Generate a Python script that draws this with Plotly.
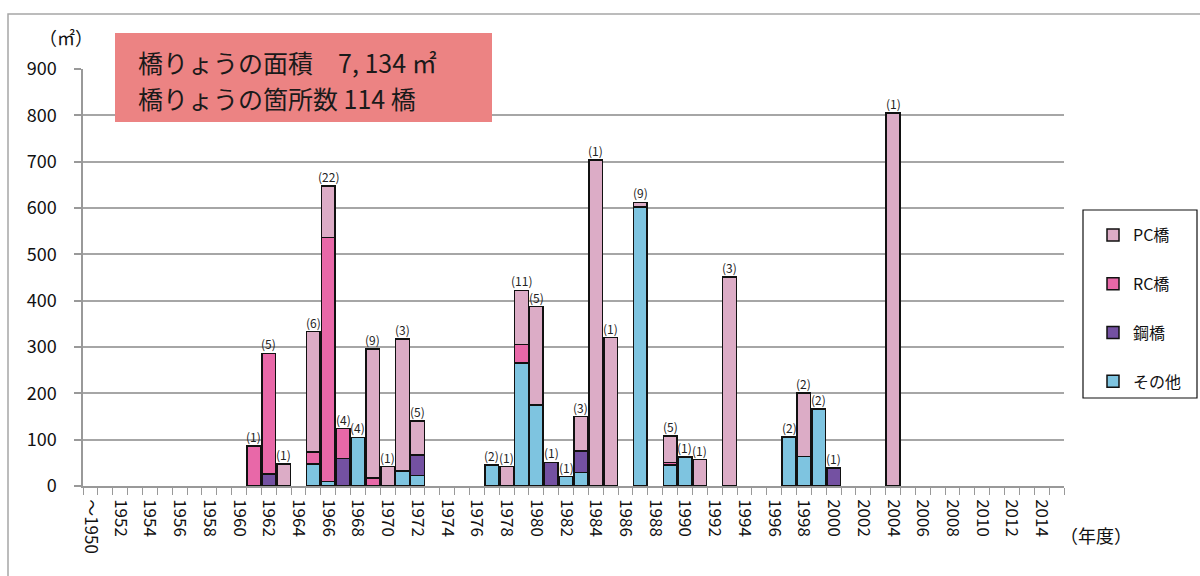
import plotly.graph_objects as go

# Fiscal years shown on the axis (first category covers everything up to 1950)
years = list(range(1950, 2016))
tick_years = list(range(1950, 2015, 2))
tick_labels = ["～1950"] + [str(y) for y in tick_years[1:]]

# Years that have bridges, with area (m²) by bridge type and number of bridges
bar_years = [1961, 1962, 1963, 1965, 1966, 1967, 1968, 1969, 1970, 1971, 1972,
             1977, 1978, 1979, 1980, 1981, 1982, 1983, 1984, 1985, 1987,
             1989, 1990, 1991, 1993, 1997, 1998, 1999, 2000, 2004]
other = [0, 0, 0, 48, 10, 0, 105, 0, 0, 32, 23,
         45, 0, 266, 175, 0, 20, 29, 0, 0, 602,
         45, 63, 0, 0, 106, 64, 166, 0, 0]
steel = [0, 26, 0, 0, 0, 59, 0, 0, 0, 0, 44,
         0, 0, 0, 0, 51, 0, 47, 0, 0, 0,
         0, 0, 0, 0, 0, 0, 0, 39, 0]
rc = [86, 260, 0, 25, 526, 65, 0, 17, 0, 0, 0,
      0, 0, 39, 0, 0, 0, 0, 0, 0, 0,
      6, 0, 0, 0, 0, 0, 0, 0, 0]
pc = [0, 0, 47, 260, 112, 0, 0, 279, 42, 285, 73,
      0, 42, 117, 212, 0, 0, 74, 704, 320, 10,
      57, 0, 57, 451, 0, 137, 0, 0, 805]
counts = [1, 5, 1, 6, 22, 4, 4, 9, 1, 3, 5,
          2, 1, 11, 5, 1, 1, 3, 1, 1, 9,
          5, 1, 1, 3, 2, 2, 2, 1, 1]

series = [
    ("その他", other, "#7EC4E0", 4),
    ("鋼橋", steel, "#7451A2", 3),
    ("RC橋", rc, "#E868A8", 2),
    ("PC橋", pc, "#DCACC6", 1),
]

FONT = "Noto Sans CJK JP"

fig = go.Figure()
for name, vals, color, rank in series:
    fig.add_trace(go.Bar(
        x=bar_years, y=vals, name=name,
        marker=dict(color=color, line=dict(color="#111111", width=1.5)),
        legendgroup=name, legendrank=rank,
    ))

totals = [a + b + c + d for a, b, c, d in zip(other, steel, rc, pc)]
for yr, tot, n in zip(bar_years, totals, counts):
    fig.add_annotation(x=yr, y=tot, text=f"({n})", showarrow=False,
                       xanchor="center", yanchor="bottom", yshift=-1,
                       font=dict(family=FONT, size=12, color="#222222"))

# Plot area in pixels: x 83..1064, y 69..486
L, R, T, B = 83, 1064, 69, 486


def px(x):
    return (x - L) / (R - L)


def py(y):
    return (B - y) / (B - T)


# Outer chart frame
fig.add_shape(type="rect", xref="paper", yref="paper",
              x0=px(8), x1=px(1210), y0=py(600), y1=py(14),
              line=dict(color="#A6A6A6", width=1.5), fillcolor="rgba(0,0,0,0)",
              layer="below")

# Summary box
fig.add_shape(type="rect", xref="paper", yref="paper",
              x0=px(115), x1=px(492), y0=py(122), y1=py(33),
              line=dict(width=0), fillcolor="#EC8383", layer="above")
fig.add_annotation(xref="paper", yref="paper", x=px(136), y=py(62),
                   xanchor="left", yanchor="middle", showarrow=False,
                   text="橋りょうの面積　7, 134 ㎡",
                   font=dict(family=FONT, size=25, color="#1a1a1a"))
fig.add_annotation(xref="paper", yref="paper", x=px(136), y=py(98),
                   xanchor="left", yanchor="middle", showarrow=False,
                   text="橋りょうの箇所数 114 橋",
                   font=dict(family=FONT, size=25, color="#1a1a1a"))

# Axis unit labels
fig.add_annotation(xref="paper", yref="paper", x=px(66), y=py(37),
                   xanchor="center", yanchor="middle", showarrow=False,
                   text="（㎡）",
                   font=dict(family=FONT, size=18, color="#111111"))
fig.add_annotation(xref="paper", yref="paper", x=px(1096), y=py(535),
                   xanchor="center", yanchor="middle", showarrow=False,
                   text="（年度）",
                   font=dict(family=FONT, size=18, color="#111111"))

# Legend frame
fig.add_shape(type="rect", xref="paper", yref="paper",
              x0=px(1083), x1=px(1197), y0=py(398), y1=py(210),
              line=dict(color="#111111", width=1.2), fillcolor="white",
              layer="below")

fig.update_layout(
    width=1200, height=576,
    margin=dict(l=L, r=1200 - R, t=T, b=576 - B, pad=0),
    paper_bgcolor="white", plot_bgcolor="white",
    barmode="stack", bargap=0.08,
    font=dict(family=FONT, size=17, color="#111111"),
    legend=dict(x=px(1093), y=py(218), xanchor="left", yanchor="top",
                bgcolor="rgba(0,0,0,0)", borderwidth=0,
                traceorder="grouped", tracegroupgap=25,
                font=dict(family=FONT, size=16, color="#111111"),
                itemwidth=30),
    showlegend=True,
)

fig.update_xaxes(
    range=[1949.5, 2015.5],
    tickmode="array", tickvals=tick_years, ticktext=tick_labels,
    tickangle=90, ticks="", ticklen=0, ticklabelstandoff=8,
    tickfont=dict(family=FONT, size=17, color="#111111"),
    showline=True, linecolor="#999999", linewidth=1.5,
    showgrid=False, zeroline=False,
    minor=dict(tickmode="linear", tick0=1949.5, dtick=1, ticks="outside",
               ticklen=7, tickcolor="#999999", tickwidth=1.2, showgrid=False),
)
fig.update_yaxes(
    range=[0, 900], tickmode="array", tickvals=list(range(0, 901, 100)),
    ticks="outside", ticklen=7, tickcolor="#999999", tickwidth=1.5,
    ticklabelstandoff=14,
    tickfont=dict(family=FONT, size=18, color="#111111"),
    showgrid=True, gridcolor="#A6A6A6", gridwidth=1.5,
    showline=True, linecolor="#999999", linewidth=1.5,
    zeroline=False,
)

fig.write_html("out.html")
